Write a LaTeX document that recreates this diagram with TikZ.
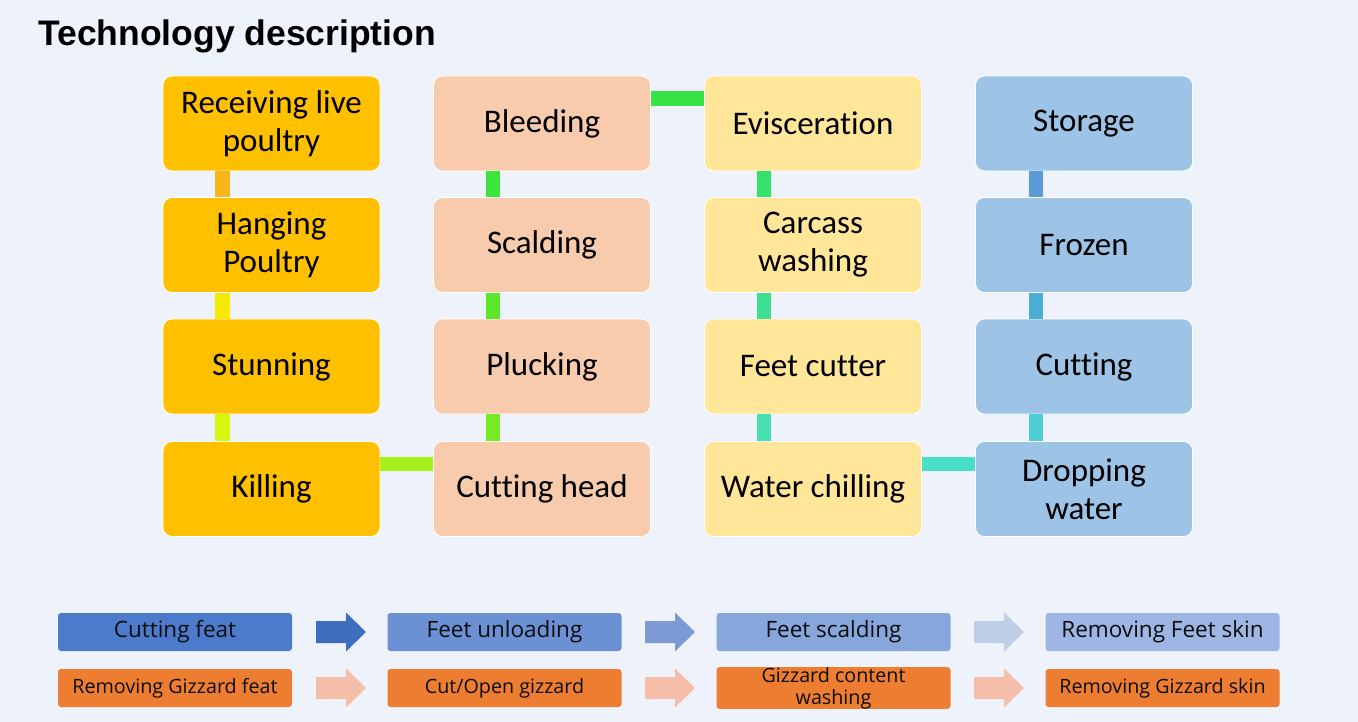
\documentclass[tikz,border=0pt]{standalone}
\usepackage{fontspec}
\setmainfont{Carlito}[RawFeature=-liga]
\newfontfamily\titlefont{Liberation Sans}
\newfontfamily\stepfont{Open Sans}
\definecolor{bg}{HTML}{EEF3FB}
\definecolor{cA}{HTML}{FFC000}
\definecolor{cB}{HTML}{F8CBAD}
\definecolor{cC}{HTML}{FFE699}
\definecolor{cD}{HTML}{9DC3E6}
\definecolor{bA1}{HTML}{F5B61B}
\definecolor{bA2}{HTML}{F5EB00}
\definecolor{bA3}{HTML}{D8F50F}
\definecolor{hAB}{HTML}{A6F01C}
\definecolor{bB3}{HTML}{76EA22}
\definecolor{bB2}{HTML}{5CE82A}
\definecolor{bB1}{HTML}{3CE43C}
\definecolor{hBC}{HTML}{35E444}
\definecolor{bC1}{HTML}{35E06C}
\definecolor{bC2}{HTML}{3FDF92}
\definecolor{bC3}{HTML}{45DFB0}
\definecolor{hCD}{HTML}{4ADFC8}
\definecolor{bD3}{HTML}{4DCFD8}
\definecolor{bD2}{HTML}{4AAED6}
\definecolor{bD1}{HTML}{5B9BD5}
\definecolor{fb1}{HTML}{4B7BCA}
\definecolor{fb2}{HTML}{6B90D4}
\definecolor{fb3}{HTML}{86A6DC}
\definecolor{fb4}{HTML}{9DB6E3}
\definecolor{fa1}{HTML}{3F6DBE}
\definecolor{fa2}{HTML}{7D9AD5}
\definecolor{fa3}{HTML}{BFCDE9}
\definecolor{gz}{HTML}{ED7D31}
\definecolor{ga}{HTML}{F6BEA8}
\definecolor{ink}{HTML}{0D0D0D}
\begin{document}
\begin{tikzpicture}[x=1pt,y=-1pt,
  procbox/.style={rounded corners=9pt, draw=white, line width=0.8pt,
    minimum width=217pt, minimum height=95pt, align=center, inner sep=0pt,
    font=\fontsize{33}{38}\selectfont},
  stepbox/.style={rounded corners=3pt, draw=none, minimum width=234pt,
    minimum height=38pt, align=center, inner sep=0pt, text=ink},
  toprow/.style={stepbox, font=\stepfont\fontsize{22.5}{26}\selectfont},
  botrow/.style={stepbox, fill=gz, font=\stepfont\fontsize{19.7}{22}\selectfont},
  bar/.style={line width=14.5pt},
  flowarrow/.pic={\fill (-25,-11) -- (5,-11) -- (5,-19.5) -- (25,0) -- (5,19.5) -- (5,11) -- (-25,11) -- cycle;}
]
\fill[bg] (0,0) rectangle (1358,722);
\useasboundingbox (0,0) rectangle (1358,722);

\node[anchor=base west, inner sep=0pt, font=\titlefont\bfseries\fontsize{35.5}{40}\selectfont] (title) at (38,46) {Technology description};

% column 1
\node[procbox, fill=cA] (recv) at (271.5,123.5) {Receiving live\\poultry};
\node[procbox, fill=cA] (hang) at (271.5,245) {Hanging\\Poultry};
\node[procbox, fill=cA] (stun) at (271.5,366.5) {Stunning};
\node[procbox, fill=cA] (kill) at (271.5,489) {Killing};
% column 2
\node[procbox, fill=cB] (bleed) at (542,123.5) {Bleeding};
\node[procbox, fill=cB] (scald) at (542,245) {Scalding};
\node[procbox, fill=cB] (pluck) at (542,366.5) {Plucking};
\node[procbox, fill=cB] (chead) at (542,489) {Cutting head};
% column 3
\node[procbox, fill=cC] (evis) at (813,123.5) {Evisceration};
\node[procbox, fill=cC] (carc) at (813,245) {Carcass\\washing};
\node[procbox, fill=cC] (feet) at (813,366.5) {Feet cutter};
\node[procbox, fill=cC] (chill) at (813,489) {Water chilling};
% column 4
\node[procbox, fill=cD] (store) at (1084,123.5) {Storage};
\node[procbox, fill=cD] (froz) at (1084,245) {Frozen};
\node[procbox, fill=cD] (cut) at (1084,366.5) {Cutting};
\node[procbox, fill=cD] (drop) at (1084,489) {Dropping\\water};

% connectors
\draw[bar, bA1] ([xshift=-49pt]recv.south) -- ([xshift=-49pt]hang.north);
\draw[bar, bA2] ([xshift=-49pt]hang.south) -- ([xshift=-49pt]stun.north);
\draw[bar, bA3] ([xshift=-49pt]stun.south) -- ([xshift=-49pt]kill.north);
\draw[bar, hAB] ([yshift=25pt]kill.east) -- ([yshift=25pt]chead.west);
\draw[bar, bB3] ([xshift=-49pt]chead.north) -- ([xshift=-49pt]pluck.south);
\draw[bar, bB2] ([xshift=-49pt]pluck.north) -- ([xshift=-49pt]scald.south);
\draw[bar, bB1] ([xshift=-49pt]scald.north) -- ([xshift=-49pt]bleed.south);
\draw[bar, hBC] ([yshift=25pt]bleed.east) -- ([yshift=25pt]evis.west);
\draw[bar, bC1] ([xshift=-49pt]evis.south) -- ([xshift=-49pt]carc.north);
\draw[bar, bC2] ([xshift=-49pt]carc.south) -- ([xshift=-49pt]feet.north);
\draw[bar, bC3] ([xshift=-49pt]feet.south) -- ([xshift=-49pt]chill.north);
\draw[bar, hCD] ([yshift=25pt]chill.east) -- ([yshift=25pt]drop.west);
\draw[bar, bD3] ([xshift=-48pt]drop.north) -- ([xshift=-48pt]cut.south);
\draw[bar, bD2] ([xshift=-48pt]cut.north) -- ([xshift=-48pt]froz.south);
\draw[bar, bD1] ([xshift=-48pt]froz.north) -- ([xshift=-48pt]store.south);

% feet line
\node[toprow, fill=fb1] (cf) at (175,632) {Cutting feat};
\node[toprow, fill=fb2] (fu) at (504.5,632) {Feet unloading};
\node[toprow, fill=fb3] (fs) at (833.5,632) {Feet scalding};
\node[toprow, fill=fb4] (rfs) at (1162.5,632) {Removing Feet skin};
\pic[color=fa1] at (341,632) {flowarrow};
\pic[color=fa2] at (670,632) {flowarrow};
\pic[color=fa3] at (999,632) {flowarrow};

% gizzard line
\node[botrow] (rgf) at (175,688) {Removing Gizzard feat};
\node[botrow] (cog) at (504.5,688) {Cut/Open gizzard};
\node[botrow] (gcw) at (833.5,688) {Gizzard content\\washing};
\node[botrow] (rgs) at (1162.5,688) {Removing Gizzard skin};
\pic[color=ga] at (341,688) {flowarrow};
\pic[color=ga] at (670,688) {flowarrow};
\pic[color=ga] at (999,688) {flowarrow};
\end{tikzpicture}
\end{document}
